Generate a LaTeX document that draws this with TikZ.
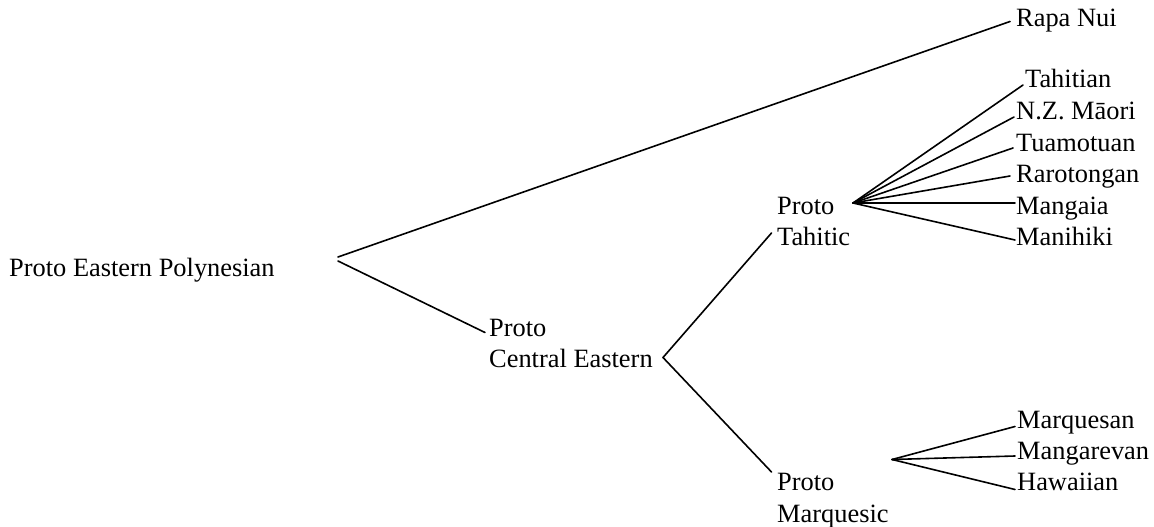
\documentclass[tikz,border=0pt]{standalone}
\usepackage{fontspec}
\setmainfont{Liberation Serif}
\begin{document}
\begin{tikzpicture}[x=1pt,y=-1pt,
  lbl/.style={anchor=base west,inner sep=0pt,align=left,font=\fontsize{26.4}{31.5}\selectfont},
  edge/.style={line width=1.6pt,line cap=round}]
\useasboundingbox (0,0) rectangle (1154,527);
% text nodes (multi-line nodes are placed by the baseline of their last line)
\node[lbl] (pep) at (9,276) {Proto Eastern Polynesian};
\node[lbl] (rapa) at (1016,27) {Rapa Nui};
\node[lbl] (pce) at (489,367.5) {Proto\\Central Eastern};
\node[lbl] (pt) at (777,245.5) {Proto\\Tahitic};
\node[lbl] (pm) at (777,522) {Proto\\Marquesic};
\node[lbl] (tah) at (1025,88) {Tahitian};
\node[lbl] (nzm) at (1016,119.5) {N.Z. Māori};
\node[lbl] (tua) at (1016,151) {Tuamotuan};
\node[lbl] (rar) at (1016,182.5) {Rarotongan};
\node[lbl] (man) at (1016,214) {Mangaia};
\node[lbl] (mhk) at (1016,245.5) {Manihiki};
\node[lbl] (mqs) at (1017,428) {Marquesan};
\node[lbl] (mgv) at (1017,459) {Mangarevan};
\node[lbl] (haw) at (1017,490) {Hawaiian};
% branching points and line ends
\coordinate (v0a) at (338,257);
\coordinate (v0b) at (338,261);
\coordinate (e0a) at (1010,21.5);
\coordinate (e0b) at (485,332.5);
\coordinate (v1) at (663,357.5);
\coordinate (e1a) at (771.5,233);
\coordinate (e1b) at (771.5,472);
\coordinate (v2) at (853,203);
\coordinate (etah) at (1023,85);
\coordinate (enzm) at (1014,117);
\coordinate (etua) at (1013,148);
\coordinate (erar) at (1010,176);
\coordinate (eman) at (1015,203);
\coordinate (emhk) at (1015,240);
\coordinate (v3) at (892,459.5);
\coordinate (emqs) at (1015,426.5);
\coordinate (emgv) at (1015,456);
\coordinate (ehaw) at (1015,489.5);
% connectors
\draw[edge] (v0a) -- (e0a);
\draw[edge] (v0b) -- (e0b);
\draw[edge] (v1) -- (e1a);
\draw[edge] (v1) -- (e1b);
\foreach \e in {etah,enzm,etua,erar,eman,emhk} \draw[edge] (v2) -- (\e);
\foreach \e in {emqs,emgv,ehaw} \draw[edge] (v3) -- (\e);
\end{tikzpicture}
\end{document}
